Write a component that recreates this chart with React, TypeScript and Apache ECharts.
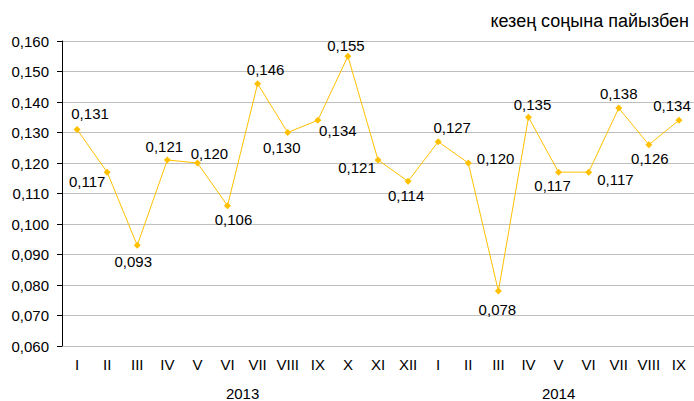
import React, { useEffect, useRef } from "react";
import * as echarts from "echarts";

const categories = ["I","II","III","IV","V","VI","VII","VIII","IX","X","XI","XII","I","II","III","IV","V","VI","VII","VIII","IX"];
const years = ["2013", "2014"];
const yearSpans = [[0, 11], [12, 20]];
const values = [0.131,0.117,0.093,0.121,0.120,0.106,0.146,0.130,0.134,0.155,0.121,0.114,0.127,0.120,0.078,0.135,0.117,0.117,0.138,0.126,0.134];
const labelPos = ["top","bottom","bottom","top","top","bottom","top","bottom","bottom","top","bottom","bottom","top","right","bottom","top","bottom","right","top","bottom","top"];
const labelOffset = [[13,0],[-20,-7],[-4,0],[-3,3],[12,6],[6,-2],[8,2],[-6,-1],[20,-6],[-2,5],[-21,-8],[-2,-2],[14,2],[0,-5],[-1,2],[4,3],[-6,-3],[0,7],[0,1],[1,-2],[-7,1]];
const unitText = "кезең соңына пайызбен";

const FONT = "'Liberation Sans', Arial, sans-serif";
const fmt = (v: number) => v.toFixed(3).replace(".", ",");

export default function App() {
  const ref = useRef<HTMLDivElement>(null);
  useEffect(() => {
    if (!ref.current) return;
    const chart = echarts.init(ref.current, null, { renderer: "svg" });
    const option: any = {
      animation: false,
      backgroundColor: "#ffffff",
      textStyle: { fontFamily: FONT },
      grid: { left: 62, right: 0, top: 41, bottom: 55 },
      xAxis: {
        type: "category",
        data: categories,
        boundaryGap: true,
        axisLine: { show: false },
        axisTick: { show: false },
        axisLabel: { color: "#000", fontSize: 15, margin: 11, fontFamily: FONT, interval: 0 },
      },
      yAxis: {
        type: "value",
        min: 0.06,
        max: 0.16,
        interval: 0.01,
        axisLine: { show: true, lineStyle: { color: "#000", width: 1 } },
        axisTick: { show: true, length: 5, lineStyle: { color: "#000" } },
        axisLabel: { color: "#000", fontSize: 15, margin: 13, fontFamily: FONT, formatter: (v: number) => fmt(v) },
        splitLine: { show: true, lineStyle: { color: "#bfbfbf", width: 1 } },
      },
      series: [
        {
          type: "line",
          data: values.map((v, i) => ({
            value: v,
            label: { position: labelPos[i], offset: labelOffset[i] },
          })),
          symbol: "diamond",
          symbolSize: 7,
          itemStyle: { color: "#FFC000" },
          lineStyle: { color: "#FFC000", width: 1 },
          label: {
            show: true,
            color: "#000",
            fontSize: 15,
            fontFamily: FONT,
            formatter: (p: any) => fmt(p.value),
          },
        },
      ],
      graphic: [
        {
          type: "text",
          right: 5,
          top: 12,
          style: { text: unitText, fill: "#000", font: `18px ${FONT}` },
        },
      ],
    };
    chart.setOption(option);
    const yearGraphics = years.map((y, k) => {
      const a = chart.convertToPixel({ xAxisIndex: 0 }, yearSpans[k][0]) as number;
      const b = chart.convertToPixel({ xAxisIndex: 0 }, yearSpans[k][1]) as number;
      return {
        type: "text",
        x: (a + b) / 2,
        y: 393,
        style: { text: y, fill: "#000", font: `15px ${FONT}`, align: "center", verticalAlign: "middle" },
      };
    });
    chart.setOption({ graphic: [option.graphic[0], ...yearGraphics] });
    return () => chart.dispose();
  }, []);
  return <div ref={ref} style={{ position: "fixed", left: 0, top: 0, width: 694, height: 401 }} />;
}
